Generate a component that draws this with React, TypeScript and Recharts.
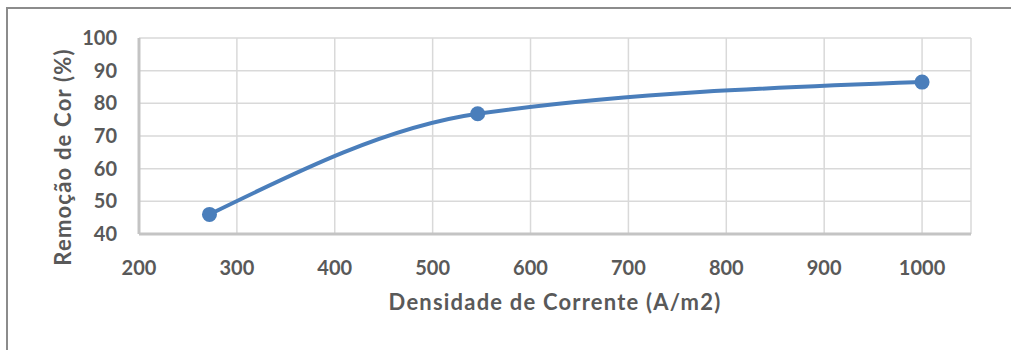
import React from 'react';
import { LineChart, Line, XAxis, YAxis, CartesianGrid, Label } from 'recharts';

// Densidade de corrente (A/m2) e remoção de cor (%) medidas
const densidade = [272, 546, 1000];
const remocao = [46.0, 76.8, 86.5];

const xTicks = [200, 300, 400, 500, 600, 700, 800, 900, 1000];
const yTicks = [40, 50, 60, 70, 80, 90, 100];

const data = densidade.map((d, i) => ({ densidade: d, remocao: remocao[i] }));

const FONT = 'Lato, "Open Sans", sans-serif';
const TEXT_GRAY = '#595959';
const LINE_BLUE = '#4a7ebb';

const titleStyle = {
  fill: TEXT_GRAY,
  fontSize: 22,
  fontWeight: 700,
  fontFamily: FONT,
  letterSpacing: 1.2,
};

// Título do eixo Y, girado e um pouco abaixo do centro da área de plotagem
function YTitle(props: any) {
  const vb = props.viewBox || { x: 0, y: 0, width: 0, height: 0 };
  const cx = vb.x + 62;
  const cy = vb.y + vb.height / 2 + 21;
  return (
    <text
      x={cx}
      y={cy}
      transform={`rotate(-90, ${cx}, ${cy})`}
      textAnchor="middle"
      dominantBaseline="central"
      style={titleStyle}
      fill={TEXT_GRAY}
    >
      Remoção de Cor (%)
    </text>
  );
}

export default function App() {
  return (
    <div
      style={{
        position: 'absolute',
        left: 0,
        top: 0,
        width: 1011,
        height: 350,
        overflow: 'hidden',
        background: '#ffffff',
      }}
    >
      {/* moldura do gráfico */}
      <div
        style={{
          position: 'absolute',
          left: 6,
          top: 7,
          width: 1100,
          height: 400,
          borderLeft: '2px solid #8c8c8c',
          borderTop: '2px solid #8c8c8c',
        }}
      />
      <div style={{ position: 'absolute', left: 0, top: 0 }}>
        <LineChart
          width={1011}
          height={350}
          data={data}
          margin={{ top: 38, right: 40, bottom: 0, left: 0 }}
        >
          <CartesianGrid xAxisId="main" yAxisId="main" stroke="#d9d9d9" strokeWidth={1.5} />
          <XAxis
            xAxisId="main"
            type="number"
            dataKey="densidade"
            domain={[200, 1050]}
            ticks={xTicks}
            interval={0}
            height={116}
            tickLine={false}
            tickSize={0}
            tickMargin={27}
            axisLine={{ stroke: '#c4c4c4', strokeWidth: 3 }}
            tick={{ fill: TEXT_GRAY, fontSize: 20, fontWeight: 700, fontFamily: FONT }}
            label={{
              value: 'Densidade de Corrente (A/m2)',
              position: 'insideTop',
              offset: 60,
              ...titleStyle,
            }}
          />
          <XAxis
            xAxisId="top"
            orientation="top"
            type="number"
            dataKey="densidade"
            domain={[200, 1050]}
            height={0}
            tick={false}
            tickLine={false}
            axisLine={{ stroke: '#808080', strokeWidth: 2 }}
          />
          <YAxis
            yAxisId="main"
            type="number"
            domain={[40, 100]}
            ticks={yTicks}
            interval={0}
            width={139}
            tickLine={false}
            tickSize={0}
            tickMargin={22}
            axisLine={{ stroke: '#c4c4c4', strokeWidth: 3 }}
            tick={{ fill: TEXT_GRAY, fontSize: 20, fontWeight: 700, fontFamily: FONT }}
          >
            <Label content={<YTitle />} />
          </YAxis>
          <YAxis
            yAxisId="right"
            orientation="right"
            type="number"
            domain={[40, 100]}
            width={0}
            tick={false}
            tickLine={false}
            axisLine={{ stroke: '#808080', strokeWidth: 2 }}
          />
          <Line
            xAxisId="main"
            yAxisId="main"
            type="monotone"
            dataKey="remocao"
            stroke={LINE_BLUE}
            strokeWidth={4}
            dot={{ r: 7.5, fill: LINE_BLUE, stroke: LINE_BLUE, strokeWidth: 0 }}
            activeDot={false}
            isAnimationActive={false}
          />
        </LineChart>
      </div>
    </div>
  );
}
